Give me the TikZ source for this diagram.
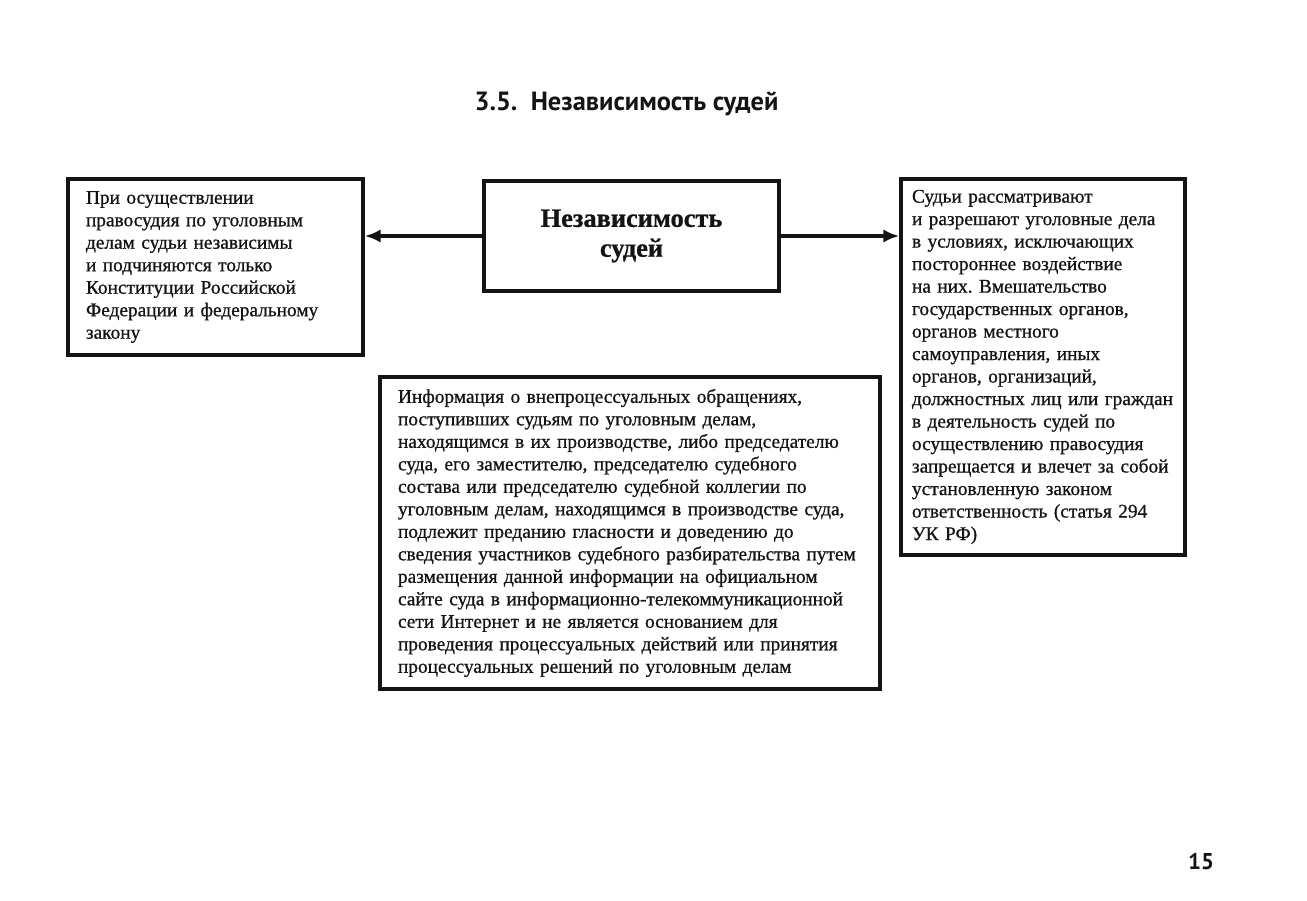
\documentclass[tikz,border=0pt]{standalone}
\usepackage{fontspec}
\setmainfont{Liberation Serif}[FakeBold=0.8]
\newfontfamily\headfont{PT Sans}
\usepackage{tikz}
\usetikzlibrary{arrows.meta, positioning, calc}
\definecolor{sudink}{RGB}{20,20,20}
\frenchspacing
\tikzset{
  %% ---- boxes ----
  textbox/.style = {rectangle, draw=sudink, line width=2pt,
                    fill=white, text width=#1, align=left,
                    inner ysep=0pt, font=\fontsize{11}{12.8}\selectfont},
  textbox/.default = 5cm,
  mainbox/.style = {rectangle, draw=sudink, line width=2pt,
                    fill=white, minimum width=5.9cm, minimum height=2.2cm,
                    align=center, font=\fontsize{15}{17}\selectfont\bfseries},
  %% ---- arrows ----
  arrow/.style   = {-{Latex[length=9pt,width=7.5pt]}, line width=1.8pt, color=sudink},
}
\begin{document}
\begin{tikzpicture}[
  every node/.style = {text=sudink},
]
\useasboundingbox (0,0) rectangle (26.14,18);
% title
\node[font=\headfont\fontsize{15}{18}\selectfont\bfseries] (title) at (12.53,15.92) {3.5.\ \ Независимость судей};
% central box
\node[mainbox] (main) at (12.63,13.28) {Независимость\\судей};
% left box
\node[textbox=5.18cm, inner xsep=0.36cm, minimum height=3.52cm] (left) at (4.31,12.66)
  {При осуществлении\\
   правосудия по уголовным\\
   делам судьи независимы\\
   и подчиняются только\\
   Конституции Российской\\
   Федерации и федеральному\\
   закону};
% right box
\node[textbox=5.24cm, inner xsep=0.22cm, minimum height=7.52cm] (right) at (20.86,10.66)
  {Судьи рассматривают\\
   и разрешают уголовные дела\\
   в условиях, исключающих\\
   постороннее воздействие\\
   на них. Вмешательство\\
   государственных органов,\\
   органов местного\\
   самоуправления, иных\\
   органов, организаций,\\
   должностных лиц или граждан\\
   в деятельность судей по\\
   осуществлению правосудия\\
   запрещается и влечет за собой\\
   установленную законом\\
   ответственность (статья 294\\
   УК РФ)};
% bottom box
\node[textbox=9.28cm, inner xsep=0.36cm, minimum height=6.24cm] (info) at (12.6,7.34)
  {Информация о внепроцессуальных обращениях,\\
   поступивших судьям по уголовным делам,\\
   находящимся в их производстве, либо председателю\\
   суда, его заместителю, председателю судебного\\
   состава или председателю судебной коллегии по\\
   уголовным делам, находящимся в производстве суда,\\
   подлежит преданию гласности и доведению до\\
   сведения участников судебного разбирательства путем\\
   размещения данной информации на официальном\\
   сайте суда в информационно-телекоммуникационной\\
   сети Интернет и не является основанием для\\
   проведения процессуальных действий или принятия\\
   процессуальных решений по уголовным делам};
% page number
\node[font=\headfont\fontsize{13}{15}\selectfont\bfseries] (page) at (24.02,0.76) {15};
\draw[arrow] (main.west) -- (main.west -| left.east);
\draw[arrow] (main.east) -- (main.east -| right.west);
\end{tikzpicture}
\end{document}
